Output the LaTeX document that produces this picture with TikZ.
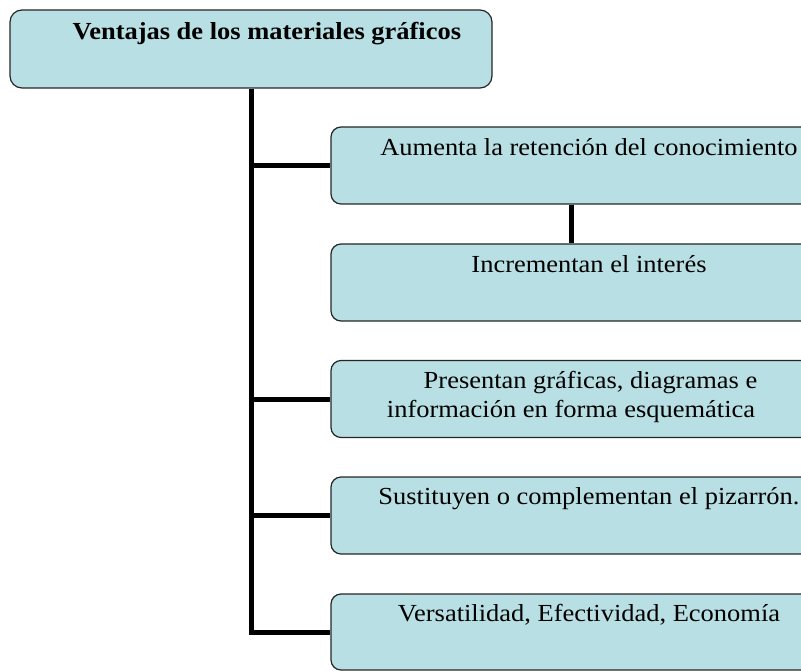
\documentclass[tikz,border=0pt]{standalone}
\usepackage{fontspec}
\setmainfont{Liberation Serif}[FakeStretch=1.08]
\definecolor{cajaazul}{RGB}{184,223,227}

\begin{document}
\begin{tikzpicture}[x=1pt,y=1pt]
	\tikzstyle{caja}=[draw=black!85,fill=cajaazul,rounded corners=10pt,line width=1.2pt,
	inner sep=0pt,minimum width=480pt,minimum height=77pt]
	\tikzstyle{texto}=[font=\fontsize{24.5}{29}\selectfont,inner sep=0pt,anchor=base,align=center]
	\tikzstyle{rama}=[line width=5pt]
	\useasboundingbox (0,0) rectangle (801,-671);
	% cajas
	\node[caja,minimum width=482pt,minimum height=78pt,rounded corners=12pt] (titulo) at (251,-49) {};
	\node[caja] (b1) at (571,-165.5) {};
	\node[caja] (b2) at (571,-282.5) {};
	\node[caja] (b3) at (571,-399) {};
	\node[caja] (b4) at (571,-515.5) {};
	\node[caja,minimum height=76pt] (b5) at (571,-632) {};
	% textos
	\node[texto,anchor=base west,font=\bfseries\fontsize{24.5}{29}\selectfont] (t0)
	at ([xshift=63pt,yshift=-30pt]titulo.north west) {Ventajas de los materiales gráficos};
	\node[texto] (t1) at ([xshift=18pt,yshift=-29pt]b1.north) {Aumenta la retención del conocimiento};
	\node[texto] (t2) at ([xshift=18pt,yshift=-29pt]b2.north) {Incrementan el interés};
	\node[texto] (t3) at ([xshift=0pt,yshift=-58pt]b3.north)
	{\hspace*{39pt}Presentan gráficas, diagramas e\\información en forma esquemática};
	\node[texto] (t4) at ([xshift=18pt,yshift=-28pt]b4.north) {Sustituyen o complementan el pizarrón.};
	\node[texto] (t5) at ([xshift=18pt,yshift=-28pt]b5.north) {Versatilidad, Efectividad, Economía};
	% conectores
	\draw[rama] (titulo.south) |- (b5.west);
	\foreach \b in {b1,b3,b4}
		\draw[rama] (titulo.south |- \b.west) -- (\b.west);
	\draw[rama] (b1.south) -- (b2.north);
\end{tikzpicture}
\end{document}
